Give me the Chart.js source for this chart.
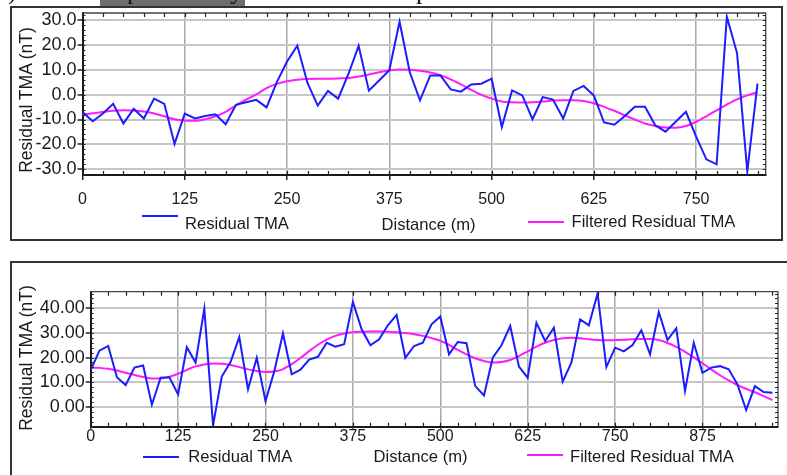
<!DOCTYPE html>
<html>
<head>
<meta charset="utf-8">
<script src="https://cdn.jsdelivr.net/npm/chart.js@4.4.1/dist/chart.umd.min.js"></script>
<style>
  html, body { margin: 0; padding: 0; background: #fff; }
  body {
    width: 787px; height: 475px; overflow: hidden; position: relative;
    font-family: "Liberation Sans", Arial, sans-serif; color: #1a1a1a;
  }
  .frame { position: absolute; border: 2px solid #333; box-sizing: border-box; }
  #frameTop { left: 10px; top: 6px; width: 773px; height: 235px; }
  #frameBottom { left: 10px; top: 261px; width: 800px; height: 240px; }
  canvas { position: absolute; left: 0; }
  #chartTop { top: 0; }
  #chartBottom { top: 260px; }
  .ytitle {
    position: absolute; white-space: nowrap; font-size: 17.5px; line-height: 1;
    transform: translate(-50%, -50%) rotate(-90deg);
  }
  .txt { position: absolute; white-space: nowrap; font-size: 16.6px; line-height: 1; transform: translateY(-50%); }
  .leg-line { position: absolute; height: 2px; width: 36px; transform: translateY(-50%); }
  .blue { background: #1c1cff; }
  .pink { background: #ff1aff; }
  /* cut-off caption line above the first panel */
  #capBar { position: absolute; left: 100px; top: 0; width: 145px; height: 6px; background: #6e6e6e; }
  .cap { position: absolute; top: -22px; font-family: "Liberation Serif", serif; font-size: 26px; line-height: 26px; color: #111; }
</style>
</head>
<body>
<div id="capBar"></div>
<span class="cap" style="left:8px">)</span>
<span class="cap" style="left:127px">p</span>
<span class="cap" style="left:230px">y</span>
<span class="cap" style="left:416px">p</span>

<div class="frame" id="frameTop"></div>
<div class="frame" id="frameBottom"></div>

<canvas id="chartTop" width="787" height="245"></canvas>
<canvas id="chartBottom" width="787" height="215"></canvas>

<div class="ytitle" style="left:27px; top:100px">Residual TMA (nT)</div>
<div class="ytitle" style="left:27px; top:358px">Residual TMA (nT)</div>

<div class="leg-line blue" style="left:142px; top:216px"></div>
<div class="txt" style="left:185px; top:223.5px">Residual TMA</div>
<div class="txt" style="left:381.5px; top:224.5px">Distance (m)</div>
<div class="leg-line pink" style="left:528px; top:221.7px"></div>
<div class="txt" style="left:571.5px; top:221.7px">Filtered Residual TMA</div>

<div class="leg-line blue" style="left:143px; top:456.7px"></div>
<div class="txt" style="left:188.3px; top:457px">Residual TMA</div>
<div class="txt" style="left:373.5px; top:456.7px">Distance (m)</div>
<div class="leg-line pink" style="left:527px; top:455.3px"></div>
<div class="txt" style="left:570px; top:456.5px">Filtered Residual TMA</div>

<script>
// station spacing along both profiles (m)
const STEP_M = 12.5;

// upper profile
const topResidual = [
  -7.0, -10.7, -7.6, -3.7, -11.6, -5.7, -9.6, -1.6, -3.7, -19.8, -7.6,
  -9.6, -8.6, -7.9, -11.9, -4.1, -3.1, -2.1, -5.1, 5.0, 13.3,
  19.7, 4.7, -4.4, 1.5, -1.6, 8.3, 19.6, 1.6, 5.7, 9.8,
  29.3, 9.0, -2.3, 7.7, 7.7, 2.1, 1.2, 4.1, 4.4, 6.4,
  -13.0, 1.7, -0.3, -9.9, -1.0, -2.0, -9.6, 1.5, 3.5, -0.4,
  -11.2, -12.1, -8.7, -4.9, -4.9, -12.3, -14.9, -10.9, -6.9, -16.9,
  -26.0, -28.0, 31.3, 16.7, -30.9, 4.4
];
const topFiltered = [
  -8.0, -7.5, -7.0, -6.5, -6.3, -6.4, -6.8, -7.6, -8.7, -9.9, -10.4,
  -10.5, -9.9, -8.7, -6.9, -4.3, -2.0, 0.1, 2.6, 4.3, 5.4,
  6.0, 6.3, 6.4, 6.4, 6.5, 6.7, 7.3, 8.1, 9.0, 9.7,
  10.1, 10.0, 9.6, 8.9, 7.8, 6.1, 4.1, 1.9, -0.1, -1.6,
  -2.8, -3.1, -3.2, -3.1, -2.8, -2.4, -2.3, -2.3, -2.6, -3.5,
  -4.9, -6.5, -8.3, -10.0, -11.6, -12.6, -13.2, -13.3, -12.6, -10.9,
  -8.7, -6.3, -4.0, -1.9, -0.3, 1.0
];
const topXTicks = [0, 125, 250, 375, 500, 625, 750];
const topYTicks = [-30, -20, -10, 0, 10, 20, 30];

// lower profile
const botResidual = [
  14.9, 22.8, 24.7, 12.0, 8.8, 15.9, 16.8, 0.8, 11.8, 12.0, 5.0,
  24.2, 18.0, 39.8, -7.5, 12.3, 18.2, 28.3, 7.1, 19.9, 2.3,
  14.3, 29.8, 13.2, 15.1, 19.2, 20.3, 26.0, 24.4, 25.4, 42.6,
  31.5, 25.0, 27.4, 33.1, 37.3, 19.9, 24.7, 26.0, 33.5, 36.7,
  21.3, 26.3, 25.8, 8.4, 4.6, 19.9, 25.0, 32.8, 16.3, 11.8,
  34.1, 26.7, 32.1, 10.2, 17.9, 35.5, 33.1, 46.1, 16.1, 24.0,
  22.5, 25.1, 31.1, 21.3, 38.5, 27.1, 31.9, 6.4, 26.0, 13.8,
  15.9, 16.5, 15.2, 9.1, -1.3, 8.4, 6.0, 5.7
];
const botFiltered = [
  15.9, 15.8, 15.4, 14.7, 13.8, 12.9, 12.1, 11.5, 11.5, 12.2, 13.4,
  15.0, 16.4, 17.2, 17.6, 17.5, 17.0, 16.1, 15.2, 14.5, 14.1,
  14.3, 15.3, 17.3, 19.8, 22.6, 25.2, 27.3, 28.8, 29.8, 30.3,
  30.5, 30.6, 30.6, 30.5, 30.3, 30.0, 29.5, 28.8, 27.9, 26.8,
  25.1, 23.1, 21.3, 19.7, 18.6, 18.0, 18.2, 19.0, 20.6, 22.5,
  24.4, 26.0, 27.1, 27.8, 28.0, 27.8, 27.4, 27.1, 27.0, 27.1,
  27.2, 27.4, 27.5, 27.5, 27.1, 25.9, 24.3, 22.3, 20.1, 17.7,
  15.2, 12.8, 10.7, 8.8, 7.3, 5.9, 4.3, 2.7
];
const botXTicks = [0, 125, 250, 375, 500, 625, 750, 875];
const botYTicks = [0, 10, 20, 30, 40];

const toPoints = (vals) => vals.map((v, i) => ({ x: i * STEP_M, y: v }));

// thin top/right frame plus small inward ticks on all four sides
const frameTicks = {
  id: 'frameTicks',
  afterDraw(chart, args, opts) {
    const { ctx, chartArea: a, scales: { x, y } } = chart;
    ctx.save();
    ctx.strokeStyle = '#444';
    ctx.lineWidth = 1.3;
    ctx.beginPath();
    ctx.moveTo(a.left, a.top);
    ctx.lineTo(a.right, a.top);
    ctx.lineTo(a.right, a.bottom);
    ctx.stroke();

    ctx.strokeStyle = '#222';
    ctx.lineWidth = 1.2;
    ctx.beginPath();
    for (let d = opts.xMinor; d < x.max; d += opts.xMinor) {
      const px = Math.round(x.getPixelForValue(d)) + 0.5;
      ctx.moveTo(px, a.top); ctx.lineTo(px, a.top + 4);
      ctx.moveTo(px, a.bottom); ctx.lineTo(px, a.bottom - 4);
    }
    for (let v = Math.ceil(y.min / opts.yMinor) * opts.yMinor; v <= y.max; v += opts.yMinor) {
      const py = Math.round(y.getPixelForValue(v)) + 0.5;
      ctx.moveTo(a.left, py); ctx.lineTo(a.left + 3, py);
      ctx.moveTo(a.right, py); ctx.lineTo(a.right - 3, py);
    }
    ctx.stroke();
    ctx.restore();
  }
};

const makeChart = (id, cfg) => {
  const ctx = document.getElementById(id).getContext('2d');
  return new Chart(ctx, {
    type: 'line',
    data: {
      datasets: [
        {
          label: 'Residual TMA',
          data: toPoints(cfg.residual),
          borderColor: '#1c1cff',
          borderWidth: 2,
          pointRadius: 0,
          tension: 0
        },
        {
          label: 'Filtered Residual TMA',
          data: toPoints(cfg.filtered),
          borderColor: '#ff1aff',
          borderWidth: 2,
          pointRadius: 0,
          cubicInterpolationMode: 'monotone'
        }
      ]
    },
    options: {
      responsive: false,
      animation: false,
      devicePixelRatio: 1,
      layout: { padding: cfg.padding },
      plugins: {
        legend: { display: false },
        tooltip: { enabled: false },
        frameTicks: { xMinor: 25, yMinor: 2 }
      },
      scales: {
        x: {
          type: 'linear',
          min: cfg.xMin,
          max: cfg.xMax,
          afterBuildTicks: (s) => { s.ticks = cfg.xTicks.map(v => ({ value: v })); },
          afterFit: (s) => { s.height = cfg.xAxisHeight; },
          grid: { color: '#a8a8a8', lineWidth: 1.5, tickLength: cfg.xTickLen, tickColor: '#222', tickWidth: 1.5 },
          border: { color: '#1a1a1a', width: 2 },
          ticks: {
            color: '#1a1a1a',
            padding: cfg.xTickPad,
            maxRotation: 0,
            font: { family: '"Liberation Sans", Arial, sans-serif', size: 16, lineHeight: 1 },
            callback: (v) => String(v)
          }
        },
        y: {
          type: 'linear',
          min: cfg.yMin,
          max: cfg.yMax,
          afterBuildTicks: (s) => { s.ticks = cfg.yTicks.map(v => ({ value: v })); },
          afterFit: (s) => { s.width = cfg.yAxisWidth; },
          grid: { color: '#c6c6c6', lineWidth: 2, tickLength: 5, tickColor: '#222', tickWidth: 1.5 },
          border: { color: '#1a1a1a', width: 2 },
          ticks: {
            color: '#1a1a1a',
            padding: 1,
            font: { family: '"Liberation Sans", Arial, sans-serif', size: 18, lineHeight: 1 },
            callback: (v) => v.toFixed(cfg.decimals)
          }
        }
      }
    },
    plugins: [frameTicks]
  });
};

makeChart('chartTop', {
  residual: topResidual,
  filtered: topFiltered,
  xTicks: topXTicks,
  yTicks: topYTicks,
  xMin: 0, xMax: 835,
  yMin: -32.3, yMax: 32.8,
  decimals: 1,
  yAxisWidth: 82.5,
  xAxisHeight: 30,
  xTickLen: 5,
  xTickPad: 12,
  padding: { left: 0, top: 13, right: 21.3, bottom: 40 }
});

makeChart('chartBottom', {
  residual: botResidual,
  filtered: botFiltered,
  xTicks: botXTicks,
  yTicks: botYTicks,
  xMin: 0, xMax: 983,
  yMin: -8.1, yMax: 46.75,
  decimals: 2,
  yAxisWidth: 90.7,
  xAxisHeight: 25,
  xTickLen: 2,
  xTickPad: 0,
  padding: { left: 0, top: 31.7, right: 9, bottom: 23.3 }
});
</script>
</body>
</html>
